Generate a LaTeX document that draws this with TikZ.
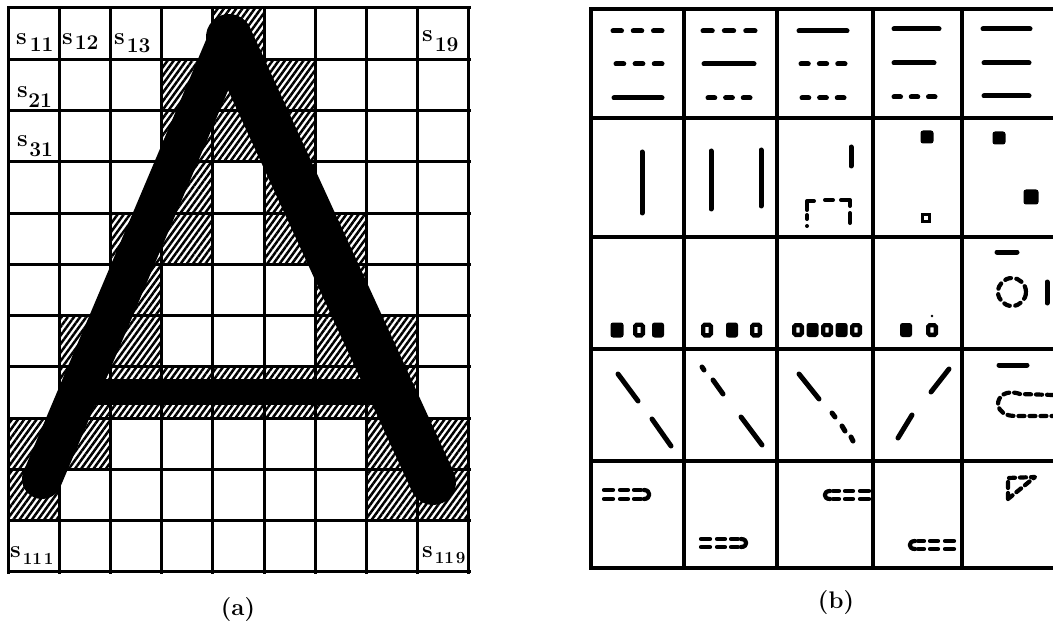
\documentclass[tikz,border=0pt]{standalone}
\usetikzlibrary{patterns.meta}
\newcommand\slab[4]{s\kern#1\raisebox{-#2}{\fontsize{#3}{#3}\selectfont\bfseries #4}}
\newcommand\tdash[3]{\pgfmathsetmacro\gG{(#2-#1+5)/8}\pgfmathsetmacro\dOn{2*\gG-5}\pgfmathsetmacro\dOff{\gG+5}\draw[sym,dash pattern=on \dOn pt off \dOff pt] (#1,#3) -- (#2,#3);}
\newcommand\fsq[4]{\fill[rounded corners=2.5pt] (#1-#3/2,#2-#4/2) rectangle (#1+#3/2,#2+#4/2);}
\newcommand\hsq[4]{\draw[line width=4.3pt,rounded corners=1.5pt] (#1-#3/2+2.15,#2-#4/2+2.15) rectangle (#1+#3/2-2.15,#2+#4/2-2.15);}
% right-closed double dashed shape: x-left, y-top, y-bottom
\newcommand\rcup[3]{%
  \draw[csym] (#1+2,#2) -- (#1+11,#2);  \draw[csym] (#1+2,#3) -- (#1+11,#3);
  \draw[csym] (#1+18,#2) -- (#1+26,#2); \draw[csym] (#1+18,#3) -- (#1+26,#3);
  \draw[csym] (#1+32,#2) -- (#1+39,#2); \draw[csym] (#1+32,#3) -- (#1+39,#3);
  \draw[csym] (#1+42,#2) .. controls (#1+49,#2) and (#1+49,#3) .. (#1+42,#3);}
% left-closed double dashed shape: x-right, y-top, y-bottom
\newcommand\lcup[3]{%
  \draw[csym] (#1-2,#2) -- (#1-11,#2);  \draw[csym] (#1-2,#3) -- (#1-11,#3);
  \draw[csym] (#1-18,#2) -- (#1-26,#2); \draw[csym] (#1-18,#3) -- (#1-26,#3);
  \draw[csym] (#1-32,#2) -- (#1-38,#2); \draw[csym] (#1-32,#3) -- (#1-38,#3);
  \draw[csym] (#1-41,#2) .. controls (#1-48,#2) and (#1-48,#3) .. (#1-41,#3);}
\begin{document}
\begin{tikzpicture}[x=1pt,y=-1pt,
  grida/.style={line width=3pt,line cap=rect},
  gridb/.style={line width=3.5pt,line cap=rect},
  hatch/.style={pattern={Lines[angle=54,distance=5pt,line width=2.5pt]},pattern color=black},
  leftleg/.style={line width=40pt,line cap=round},
  rightleg/.style={line width=46pt,line cap=round},
  sym/.style={line width=5pt,line cap=round,line join=round},
  thinsym/.style={sym,line width=4pt},
  csym/.style={sym,line width=4.2pt},
  lab/.style={inner sep=0pt,anchor=base west,font=\fontsize{24}{24}\selectfont\bfseries},
  captext/.style={inner sep=0pt,font=\fontsize{24}{24}\selectfont\bfseries}]
\useasboundingbox (0,0) rectangle (1053,623);
\fill[white] (0,0) rectangle (1053,623);

% ---------------- (a) ----------------
\foreach \r/\c in {1/5, 2/4,2/5,2/6, 3/4,3/5,3/6, 4/4,4/6, 5/3,5/4,5/6,5/7,
                   6/3,6/7, 7/2,7/3,7/7,7/8, 8/2,8/3,8/4,8/5,8/6,8/7,8/8,
                   9/1,9/2,9/8,9/9, 10/1,10/8,10/9}
  \fill[hatch] ({8+51.22*(\c-1)},{8+51.27*(\r-1)}) rectangle ({8+51.22*\c},{8+51.27*\r});

\coordinate (lf) at (42,479);
\coordinate (ap) at (229,37);
\coordinate (rf) at (433,482);
\coordinate (bl) at (70,392);
\coordinate (br) at (405,392);
\draw[leftleg] (lf) -- (ap);
\draw[rightleg] (ap) -- (rf);
\draw[line width=26pt] (bl) -- (br);

\foreach \i in {0,...,9} \draw[grida] ({8+51.22*\i},8) -- ({8+51.22*\i},572);
\foreach \j in {0,...,11} \draw[grida] (8,{8+51.27*\j}) -- (469,{8+51.27*\j});

\node[lab] (s11) at (16,45) {\slab{3pt}{7pt}{21}{11}};
\node[lab] (s12) at (62,45) {\slab{2pt}{5pt}{21}{12}};
\node[lab] (s13) at (114,45) {\slab{2pt}{8pt}{21}{13}};
\node[lab] (s19) at (422,42) {\slab{2pt}{10pt}{21}{19}};
\node[lab] (s21) at (17,98) {\slab{0.5pt}{10pt}{21}{21}};
\node[lab] (s31) at (17,147) {\slab{1.5pt}{10pt}{21}{31}};
\node[lab] (s111) at (10,557) {\slab{2pt}{7pt}{17}{11\kern2pt1}};
\node[lab] (s119) at (422,557) {\slab{2pt}{6pt}{17}{11\kern2pt9}};
\node[captext] (capa) at (238,610) {(a)};

% ---------------- (b) ----------------
\foreach \x in {591,684,777,873,962} \draw[gridb] (\x,9) -- (\x,568);
\foreach \y in {9,118,237,349,461,568} \draw[gridb] (591,\y) -- (1053,\y);

% row 1
\tdash{613}{662}{31} \tdash{616}{662}{64} \draw[sym] (614,98) -- (662,98);
\tdash{703}{755}{31} \draw[sym] (704,64) -- (754,64); \tdash{708}{750}{98}
\draw[sym] (799,31) -- (847,31); \tdash{801}{845}{64} \tdash{802}{844}{98}
\draw[sym] (894,29) -- (939,29); \draw[sym] (894,63) -- (934,63); \tdash{894}{935}{97}
\draw[sym] (983,29) -- (1030,29); \draw[sym] (984,63) -- (1029,63); \draw[sym] (984,96) -- (1029,96);

% row 2
\draw[sym] (642,152) -- (642,213);
\draw[sym] (711,151) -- (711,209); \draw[sym] (761,150) -- (761,206);
\draw[sym] (851,147) -- (851,166);
\draw[thinsym] (807,210) -- (807,201) -- (814,201);
\draw[thinsym] (807,215) -- (807,219);
\fill (807,226) circle[radius=2pt];
\draw[thinsym] (825,200) -- (833,200);
\draw[thinsym] (841,200) -- (850,200) -- (850,206);
\draw[thinsym] (850,213) -- (850,223);
\fsq{927}{137}{13}{13}
\draw[line width=3.3pt] (922.5,214.5) rectangle (929.5,221.5);
\fsq{999}{138}{13}{13}
\fsq{1031}{197}{15}{15}

% row 3
\fsq{617}{330}{13}{15} \hsq{639}{330}{12}{15} \fsq{658}{330}{12}{15}
\hsq{707}{330}{12}{15} \fsq{732}{330}{12}{15} \hsq{756}{330}{12}{15}
\hsq{798}{330}{12}{14} \fsq{812.5}{330}{12}{14} \hsq{827}{330}{12}{14} \fsq{841.5}{330}{12}{14} \hsq{856}{330}{12}{14}
\fsq{906}{330}{12}{14} \hsq{932}{330}{12}{14}
\fill (932,316) circle[radius=1.3pt];
\draw[sym] (997,252) -- (1017,252);
\draw[sym,line width=4.2pt,dash pattern=on 6pt off 5.5pt] (1012,292) circle[radius=14pt];
\draw[sym] (1047,282) -- (1047,303);

% row 4
\draw[sym] (618,374) -- (638,401); \draw[sym] (652,419) -- (671,446);
\draw[sym] (702,367) -- (704,370); \draw[sym] (713,380) -- (723,394); \draw[sym] (741,417) -- (762,445);
\draw[sym] (799,374) -- (819,399); \draw[sym] (832,413) -- (835,417); \draw[sym] (842,426) -- (845,431); \draw[sym] (851,437) -- (853,441);
\draw[sym] (949,369) -- (931,392); \draw[sym] (912,415) -- (898,438);
\draw[sym] (999,365) -- (1027,365);
\draw[sym,line width=4.2pt,dash pattern=on 6pt off 5pt] (1053,395) -- (1020,394) .. controls (1005,389) and (998,397) .. (998,404) .. controls (999,412) and (1005,416) .. (1016,416) -- (1053,416);

% row 5
\rcup{602}{490}{499}
\rcup{699}{539}{547}
\lcup{871}{491}{499}
\lcup{956}{541}{549}
\draw[csym,dash pattern=on 6pt off 5pt] (1008,499) -- (1008,478) -- (1035,477) -- cycle;

\node[captext] (capb) at (836,603) {(b)};
\end{tikzpicture}
\end{document}
